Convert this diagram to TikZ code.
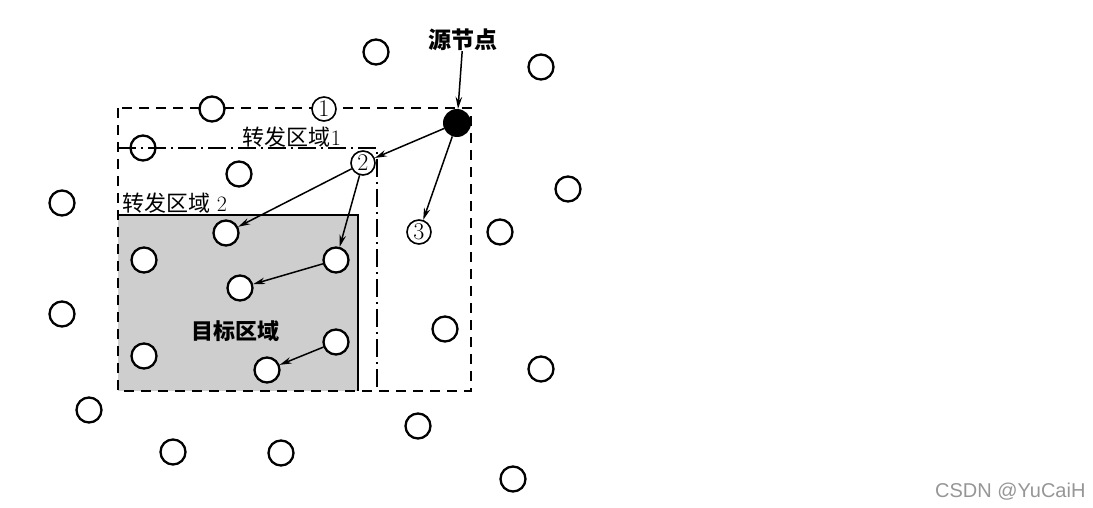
\documentclass[tikz,border=0pt]{standalone}
\usepackage{fontspec}
\newfontfamily\cjk{Noto Sans CJK SC}
\newfontfamily\wmfont{Liberation Sans}
\usetikzlibrary{arrows.meta,calc,positioning}
\definecolor{RegionGray}{RGB}{206,206,206}
\definecolor{MarkGray}{RGB}{150,150,150}

\begin{document}
\begin{tikzpicture}[x=1pt, y=-1pt,
  sensor/.style={circle, draw, line width=2.3pt, fill=white, minimum size=25pt, inner sep=0pt},
  numsensor/.style={circle, draw, line width=1.6pt, fill=white, minimum size=24pt, inner sep=0pt, font=\fontsize{24}{24}\selectfont},
  hop/.style={-{Stealth[length=12pt, width=6.5pt]}, line width=1.5pt},
  region/.style={font=\fontsize{22}{22}\selectfont, inner sep=0pt}]
  \useasboundingbox (0,0) rectangle (1093,508);

  % Target region (shaded)
  \fill[RegionGray] (118,215) rectangle (358,391);

  % Forwarding region 1 (dash-dot) and region 2 (solid)
  \draw[line width=2pt, dash pattern=on 18pt off 5pt on 2pt off 5pt] (118,148) -- (377,148) -- (377,391);
  \draw[line width=2pt] (118,215) -- (358,215) -- (358,391);

  % Whole request zone (dashed)
  \draw[line width=2.2pt, dash pattern=on 10pt off 7pt] (118,108) rectangle (471,391);

  % Ordinary nodes
  \foreach \nm/\px/\py in {a1/376/52, a2/541/67, a3/212/109, a4/239/174, a5/568/189,
      a6/62/203, a7/500/232, a8/144/260, a9/62/314, a10/445/329, a11/144/356,
      a12/541/369, a13/89/410, a14/418/426, a15/173/452, a16/281/453, a17/513/479,
      t1/226/233, t2/336/260, t3/240/288, t4/336/342, t5/267/370}
    \node[sensor] (\nm) at (\px,\py) {};
  \node[sensor, fill=none] (a18) at (143,148) {};

  % Numbered relay nodes
  \node[numsensor] (n1) at (324,109) {1};
  \node[numsensor] (n2) at (363,163) {2};
  \node[numsensor] (n3) at (419,232) {3};

  % Source node
  \node[circle, fill=black, minimum size=28pt, inner sep=0pt] (src) at (457,123) {};
  \node[region, font=\cjk\bfseries\fontsize{23}{23}\selectfont] (srclabel) at (463,40) {源节点};

  % Labels
  \node[region] (fr1) at (292,137) {{\cjk 转发区域}1};
  \node[region, anchor=west] (fr2) at (122,203) {{\cjk 转发区域} 2};
  \node[region, font=\cjk\bfseries\fontsize{22}{22}\selectfont] (goal) at (235,331) {目标区域};

  % Forwarding hops
  \draw[hop] (srclabel) -- (src);
  \draw[hop] (src) -- (n2);
  \draw[hop] (src) -- (n3);
  \draw[hop] (n2) -- (t1);
  \draw[hop] (n2) -- (t2);
  \draw[hop] (t2) -- (t3);
  \draw[hop] (t4) -- (t5);

  % Watermark
  \node[MarkGray, font=\wmfont\fontsize{20}{20}\selectfont, anchor=east] (mark) at (1089,492) {CSDN @YuCaiH};
\end{tikzpicture}
\end{document}
